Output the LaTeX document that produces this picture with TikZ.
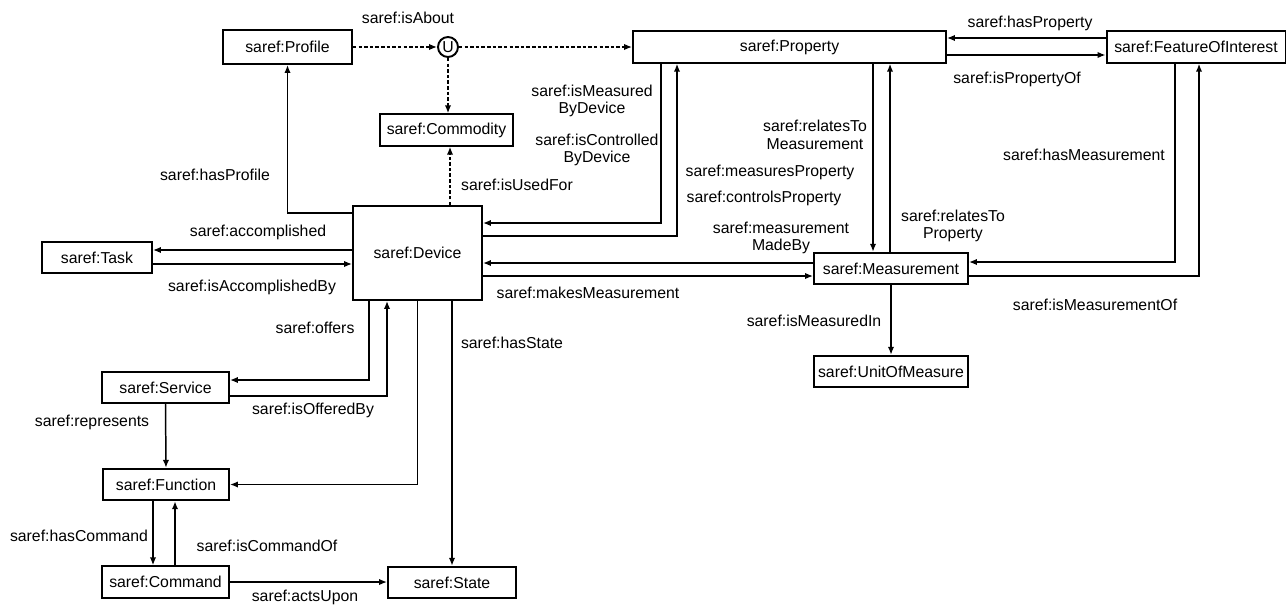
\documentclass[tikz,border=0pt]{standalone}
\usepackage{fontspec}
\setmainfont{Liberation Sans}
\usetikzlibrary{arrows.meta}

\begin{document}
\begin{tikzpicture}[x=0.02cm, y=-0.02cm,
		cls/.style={draw, line width=1.1pt, inner sep=0pt, minimum height=0.63cm, minimum width=#1, font=\fontsize{9}{10}\selectfont},
		rel/.style={line width=0.85pt, -{Latex[length=4.5pt,width=3.6pt]}},
		dashrel/.style={rel, dash pattern=on 2pt off 1.2pt},
		lbl/.style={font=\fontsize{9}{10}\selectfont, align=center, inner sep=0pt}]
	\useasboundingbox (0,0) rectangle (1287,605);
	\node[cls=2.58cm, minimum height=0.68cm] (prof) at (287.5,47) {saref:Profile};
	\node[circle, draw, line width=1.1pt, minimum size=0.4cm, inner sep=0pt, font=\fontsize{9}{10}\selectfont] (u) at (448,47) {U};
	\node[cls=6.26cm] (prop) at (789.5,47) {saref:Property};
	\node[cls=3.58cm] (foi) at (1196,47) {saref:FeatureOfInterest};
	\node[cls=2.66cm] (comm) at (446.5,130) {saref:Commodity};
	\node[cls=2.58cm, minimum height=1.88cm] (dev) at (417.5,253) {saref:Device};
	\node[cls=2.2cm] (task) at (97,257.5) {saref:Task};
	\node[cls=3.08cm] (meas) at (891,268.5) {saref:Measurement};
	\node[cls=3.08cm] (uom) at (891,371.5) {saref:UnitOfMeasure};
	\node[cls=2.54cm] (serv) at (165.5,387.5) {saref:Service};
	\node[cls=2.52cm] (func) at (166,484.5) {saref:Function};
	\node[cls=2.54cm] (cmd) at (165.5,582) {saref:Command};
	\node[cls=2.56cm] (stat) at (452,582.5) {saref:State};
	% dashed part
	\draw[dashrel] (prof.east) -- (u.west);
	\draw[dashrel] (u.east) -- (prop.west);
	\draw[dashrel] (u.south) -- (u.south |- comm.north);
	\draw[dashrel] (dev.north -| 450,0) -- (comm.south -| 450,0);
	% device
	\draw[rel] (dev.west |- 0,213) -| (prof.south);
	\draw[rel] (dev.west |- 0,250) -- (task.east |- 0,250);
	\draw[rel] (task.east |- 0,264) -- (dev.west |- 0,264);
	\draw[rel] (dev.south -| 369,0) |- (serv.east |- 0,380);
	\draw[rel] (serv.east |- 0,396) -| (dev.south -| 387,0);
	\draw[rel] (dev.south) |- (func.east);
	\draw[rel] (dev.south -| stat.north) -- (stat.north);
	\draw[rel] (serv.south) -- (func.north);
	\draw[rel] (func.south -| 153,0) -- (cmd.north -| 153,0);
	\draw[rel] (cmd.north -| 175,0) -- (func.south -| 175,0);
	\draw[rel] (cmd.east) -- (cmd.east -| stat.west);
	% property and measurement
	\draw[rel] (prop.south -| 661,0) |- (dev.east |- 0,223);
	\draw[rel] (dev.east |- 0,236) -| (prop.south -| 677,0);
	\draw[rel] (prop.south -| 873,0) -- (meas.north -| 873,0);
	\draw[rel] (meas.north -| 890,0) -- (prop.south -| 890,0);
	\draw[rel] (meas.west |- 0,263) -- (dev.east |- 0,263);
	\draw[rel] (dev.east |- 0,276) -- (meas.west |- 0,276);
	\draw[rel] (meas.south) -- (uom.north);
	\draw[rel] (prop.east |- 0,55) -- (foi.west |- 0,55);
	\draw[rel] (foi.west |- 0,38) -- (prop.east |- 0,38);
	\draw[rel] (foi.south -| 1175,0) |- (meas.east |- 0,262);
	\draw[rel] (meas.east |- 0,276) -| (foi.south -| 1199,0);
	% labels
	\node[lbl] (l-about) at (408,18) {saref:isAbout};
	\node[lbl] (l-hasprofile) at (215,175) {saref:hasProfile};
	\node[lbl] (l-usedfor) at (517,185) {saref:isUsedFor};
	\node[lbl] (l-measdev) at (592,101) {saref:isMeasured\\ByDevice};
	\node[lbl] (l-ctrldev) at (597,150) {saref:isControlled\\ByDevice};
	\node[lbl] (l-relmeas) at (815,135) {saref:relatesTo\\Measurement};
	\node[lbl] (l-measprop) at (770,172) {saref:measuresProperty};
	\node[lbl] (l-ctrlprop) at (764,198) {saref:controlsProperty};
	\node[lbl] (l-madeby) at (781,238) {saref:measurement\\MadeBy};
	\node[lbl] (l-relprop) at (953,226) {saref:relatesTo\\Property};
	\node[lbl] (l-hasprop) at (1030,23) {saref:hasProperty};
	\node[lbl] (l-propof) at (1017,79) {saref:isPropertyOf};
	\node[lbl] (l-hasmeas) at (1084,155) {saref:hasMeasurement};
	\node[lbl] (l-measof) at (1095,305) {saref:isMeasurementOf};
	\node[lbl] (l-makes) at (588,293) {saref:makesMeasurement};
	\node[lbl] (l-measin) at (814,321) {saref:isMeasuredIn};
	\node[lbl] (l-accompl) at (258,232) {saref:accomplished};
	\node[lbl] (l-accby) at (252,287) {saref:isAccomplishedBy};
	\node[lbl] (l-offers) at (315,328) {saref:offers};
	\node[lbl] (l-offby) at (313,410) {saref:isOfferedBy};
	\node[lbl] (l-hasstate) at (512,343) {saref:hasState};
	\node[lbl] (l-repr) at (92,422) {saref:represents};
	\node[lbl] (l-hascmd) at (79,536) {saref:hasCommand};
	\node[lbl] (l-cmdof) at (267,546) {saref:isCommandOf};
	\node[lbl] (l-acts) at (305,597) {saref:actsUpon};
\end{tikzpicture}
\end{document}
